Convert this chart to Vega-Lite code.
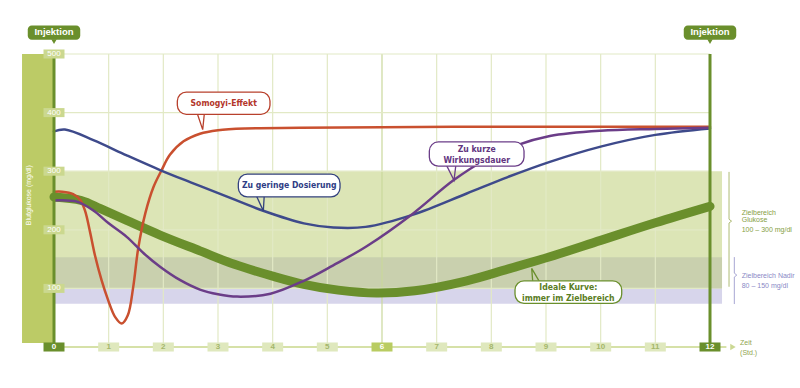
{
  "$schema": "https://vega.github.io/schema/vega-lite/v6.json",
  "width": 656,
  "height": 293,
  "autosize": {"type": "none"},
  "padding": {"left": 54, "top": 54, "right": 90, "bottom": 41},
  "background": "white",
  "config": {"view": {"stroke": null}, "text": {"font": "Liberation Sans"}},
  "datasets": {
    "bands": [
      {"b": "glukose", "t": 0, "t2": 12.22, "v": 100, "v2": 300},
      {"b": "nadir", "t": 0, "t2": 12.22, "v": 74, "v2": 100},
      {"b": "both", "t": 0, "t2": 12.22, "v": 100, "v2": 153}
    ],
    "sidebar": [{"t": -0.585, "t2": 0, "v": 6.8, "v2": 500}],
    "vgrid": [
      {"t": 1, "v": 0, "v2": 500}, {"t": 2, "v": 0, "v2": 500}, {"t": 3, "v": 0, "v2": 500},
      {"t": 4, "v": 0, "v2": 500}, {"t": 5, "v": 0, "v2": 500}, {"t": 6, "v": 0, "v2": 500},
      {"t": 7, "v": 0, "v2": 500}, {"t": 8, "v": 0, "v2": 500}, {"t": 9, "v": 0, "v2": 500},
      {"t": 10, "v": 0, "v2": 500}, {"t": 11, "v": 0, "v2": 500}
    ],
    "hgrid": [
      {"t": 0, "t2": 12, "v": 100}, {"t": 0, "t2": 12, "v": 200}, {"t": 0, "t2": 12, "v": 300},
      {"t": 0, "t2": 12, "v": 400}, {"t": 0, "t2": 12, "v": 500}
    ],
    "xaxis": [{"t": 0, "t2": 12.3, "v": 0}],
    "arrow": [{"t": 12.42, "v": 0}],
    "curves": [
      {"s": "ideal", "t": 0, "v": 256}, {"s": "ideal", "t": 0.5, "v": 250}, {"s": "ideal", "t": 0.85, "v": 236},
      {"s": "ideal", "t": 1.33, "v": 216}, {"s": "ideal", "t": 1.94, "v": 191}, {"s": "ideal", "t": 2.67, "v": 164},
      {"s": "ideal", "t": 3.3, "v": 141}, {"s": "ideal", "t": 4, "v": 121}, {"s": "ideal", "t": 4.57, "v": 107},
      {"s": "ideal", "t": 5.2, "v": 97}, {"s": "ideal", "t": 5.9, "v": 92}, {"s": "ideal", "t": 6.6, "v": 96},
      {"s": "ideal", "t": 7.55, "v": 113}, {"s": "ideal", "t": 8.3, "v": 133}, {"s": "ideal", "t": 9.07, "v": 154},
      {"s": "ideal", "t": 10, "v": 182}, {"s": "ideal", "t": 11, "v": 212}, {"s": "ideal", "t": 12, "v": 240},
      {"s": "somogyi", "t": 0, "v": 265}, {"s": "somogyi", "t": 0.15, "v": 265}, {"s": "somogyi", "t": 0.35, "v": 261},
      {"s": "somogyi", "t": 0.48, "v": 251}, {"s": "somogyi", "t": 0.57, "v": 232}, {"s": "somogyi", "t": 0.66, "v": 196},
      {"s": "somogyi", "t": 0.75, "v": 156}, {"s": "somogyi", "t": 0.87, "v": 114}, {"s": "somogyi", "t": 0.99, "v": 80},
      {"s": "somogyi", "t": 1.12, "v": 51}, {"s": "somogyi", "t": 1.24, "v": 40}, {"s": "somogyi", "t": 1.35, "v": 54},
      {"s": "somogyi", "t": 1.45, "v": 103}, {"s": "somogyi", "t": 1.54, "v": 168}, {"s": "somogyi", "t": 1.67, "v": 228},
      {"s": "somogyi", "t": 1.82, "v": 273}, {"s": "somogyi", "t": 1.97, "v": 302}, {"s": "somogyi", "t": 2.12, "v": 328},
      {"s": "somogyi", "t": 2.37, "v": 351}, {"s": "somogyi", "t": 2.67, "v": 364}, {"s": "somogyi", "t": 3, "v": 370},
      {"s": "somogyi", "t": 3.5, "v": 373}, {"s": "somogyi", "t": 4.5, "v": 374}, {"s": "somogyi", "t": 6, "v": 375},
      {"s": "somogyi", "t": 8, "v": 376}, {"s": "somogyi", "t": 10, "v": 376}, {"s": "somogyi", "t": 12, "v": 376},
      {"s": "dosis", "t": 0, "v": 368}, {"s": "dosis", "t": 0.2, "v": 371}, {"s": "dosis", "t": 0.72, "v": 353},
      {"s": "dosis", "t": 1.33, "v": 327}, {"s": "dosis", "t": 1.94, "v": 302}, {"s": "dosis", "t": 2.5, "v": 281},
      {"s": "dosis", "t": 3.05, "v": 261}, {"s": "dosis", "t": 3.84, "v": 232}, {"s": "dosis", "t": 4.57, "v": 211},
      {"s": "dosis", "t": 5.11, "v": 204}, {"s": "dosis", "t": 5.7, "v": 205}, {"s": "dosis", "t": 6.57, "v": 226},
      {"s": "dosis", "t": 7.55, "v": 262}, {"s": "dosis", "t": 8.3, "v": 290}, {"s": "dosis", "t": 9.07, "v": 316},
      {"s": "dosis", "t": 10, "v": 342}, {"s": "dosis", "t": 11, "v": 362}, {"s": "dosis", "t": 12, "v": 373},
      {"s": "wirkung", "t": 0, "v": 250}, {"s": "wirkung", "t": 0.11, "v": 250.5}, {"s": "wirkung", "t": 0.42, "v": 248},
      {"s": "wirkung", "t": 0.72, "v": 233}, {"s": "wirkung", "t": 1, "v": 211}, {"s": "wirkung", "t": 1.33, "v": 188},
      {"s": "wirkung", "t": 1.64, "v": 160}, {"s": "wirkung", "t": 1.94, "v": 137}, {"s": "wirkung", "t": 2.31, "v": 114},
      {"s": "wirkung", "t": 2.67, "v": 98}, {"s": "wirkung", "t": 3, "v": 90}, {"s": "wirkung", "t": 3.35, "v": 86},
      {"s": "wirkung", "t": 3.96, "v": 91}, {"s": "wirkung", "t": 4.57, "v": 113}, {"s": "wirkung", "t": 5.1, "v": 139},
      {"s": "wirkung", "t": 5.72, "v": 172}, {"s": "wirkung", "t": 6.57, "v": 228}, {"s": "wirkung", "t": 7.3, "v": 284},
      {"s": "wirkung", "t": 7.9, "v": 320}, {"s": "wirkung", "t": 8.46, "v": 344}, {"s": "wirkung", "t": 9.07, "v": 360},
      {"s": "wirkung", "t": 10, "v": 369}, {"s": "wirkung", "t": 11, "v": 372}, {"s": "wirkung", "t": 12, "v": 374}
    ],
    "inj": [{"t": 0, "v": 0, "v2": 500}, {"t": 12, "v": 0, "v2": 500}],
    "ylab": [{"t": 0, "v": 100}, {"t": 0, "v": 200}, {"t": 0, "v": 300}, {"t": 0, "v": 400}, {"t": 0, "v": 500}],
    "xlab": [
      {"t": 0, "v": 0}, {"t": 1, "v": 0}, {"t": 2, "v": 0}, {"t": 3, "v": 0}, {"t": 4, "v": 0},
      {"t": 5, "v": 0}, {"t": 6, "v": 0}, {"t": 7, "v": 0}, {"t": 8, "v": 0}, {"t": 9, "v": 0},
      {"t": 10, "v": 0}, {"t": 11, "v": 0}, {"t": 12, "v": 0}
    ],
    "injbox": [{"t": -0.48, "t2": 0.48, "v": 524.5, "v2": 548.8}, {"t": 11.52, "t2": 12.48, "v": 524.5, "v2": 548.8}],
    "injtri": [{"t": 0, "v": 521}, {"t": 12, "v": 521}],
    "injtext": [{"t": 0, "v": 536.9, "label": "Injektion"}, {"t": 12, "v": 536.9, "label": "Injektion"}],
    "tails": [
      {"c": "s", "o": 0, "t": 2.622, "v": 398}, {"c": "s", "o": 1, "t": 2.72, "v": 371}, {"c": "s", "o": 2, "t": 2.75, "v": 398},
      {"c": "d", "o": 0, "t": 3.708, "v": 257}, {"c": "d", "o": 1, "t": 3.829, "v": 232.3}, {"c": "d", "o": 2, "t": 3.845, "v": 257},
      {"c": "w", "o": 0, "t": 7.183, "v": 309.5}, {"c": "w", "o": 1, "t": 7.317, "v": 284.6}, {"c": "w", "o": 2, "t": 7.35, "v": 309.5},
      {"c": "i", "o": 0, "t": 8.757, "v": 112}, {"c": "i", "o": 1, "t": 8.738, "v": 134.1}, {"c": "i", "o": 2, "t": 8.877, "v": 112}
    ],
    "boxes": [
      {"c": "s", "t": 2.256, "t2": 3.951, "v": 397.1, "v2": 435.1},
      {"c": "d", "t": 3.372, "t2": 5.232, "v": 256.2, "v2": 294.9},
      {"c": "w", "t": 6.866, "t2": 8.598, "v": 308.5, "v2": 349.9},
      {"c": "i", "t": 8.433, "t2": 10.385, "v": 74.5, "v2": 113}
    ],
    "ctext": [
      {"c": "s", "t": 3.104, "v": 415.9, "label": "Somogyi-Effekt"},
      {"c": "d", "t": 4.302, "v": 275.6, "label": "Zu geringe Dosierung"},
      {"c": "w", "t": 7.732, "v": 337.5, "label": "Zu kurze"},
      {"c": "w", "t": 7.732, "v": 318.7, "label": "Wirkungsdauer"},
      {"c": "i", "t": 9.408, "v": 102.8, "label": "Ideale Kurve:"},
      {"c": "i", "t": 9.408, "v": 83, "label": "immer im Zielbereich"}
    ],
    "braces": [
      {"b": "g", "o": 0, "t": 12.348, "v": 298.8}, {"b": "g", "o": 1, "t": 12.348, "v": 218},
      {"b": "g", "o": 2, "t": 12.395, "v": 214.8}, {"b": "g", "o": 3, "t": 12.348, "v": 211.6},
      {"b": "g", "o": 4, "t": 12.348, "v": 102.8},
      {"b": "n", "o": 0, "t": 12.445, "v": 153.4}, {"b": "n", "o": 1, "t": 12.445, "v": 126},
      {"b": "n", "o": 2, "t": 12.49, "v": 122.7}, {"b": "n", "o": 3, "t": 12.445, "v": 119.4},
      {"b": "n", "o": 4, "t": 12.445, "v": 73.3}
    ],
    "rtext": [
      {"b": "g", "t": 12.58, "v": 228.9, "label": "Zielbereich"},
      {"b": "g", "t": 12.58, "v": 216.4, "label": "Glukose"},
      {"b": "g", "t": 12.58, "v": 199.4, "label": "100 – 300 mg/dl"},
      {"b": "n", "t": 12.58, "v": 121, "label": "Zielbereich Nadir"},
      {"b": "n", "t": 12.58, "v": 104, "label": "80 – 150 mg/dl"}
    ],
    "ytitle": [{"t": -0.45, "v": 259, "label": "Blutglukose (mg/dl)"}],
    "zeit": [{"t": 12.55, "v": 6.8, "label": "Zeit"}, {"t": 12.55, "v": -10.2, "label": "(Std.)"}]
  },
  "encoding": {
    "x": {"field": "t", "type": "quantitative", "scale": {"domain": [0, 12], "nice": false, "zero": false}, "axis": null},
    "y": {"field": "v", "type": "quantitative", "scale": {"domain": [0, 500], "nice": false, "zero": false}, "axis": null}
  },
  "layer": [
    {
      "data": {"name": "bands"},
      "mark": {"type": "rect"},
      "encoding": {
        "x2": {"field": "t2"}, "y2": {"field": "v2"},
        "color": {"field": "b", "type": "nominal", "scale": {"domain": ["glukose", "nadir", "both"], "range": ["#dce5b6", "#d7d5eb", "#c9d0ae"]}, "legend": null}
      }
    },
    {
      "data": {"name": "sidebar"},
      "mark": {"type": "rect", "color": "#bccb66"},
      "encoding": {"x2": {"field": "t2"}, "y2": {"field": "v2"}}
    },
    {
      "data": {"name": "vgrid"},
      "mark": {"type": "rule", "strokeWidth": 1.2},
      "encoding": {
        "y2": {"field": "v2"},
        "color": {"condition": {"test": "datum.t === 6", "value": "#cad89c"}, "value": "#e2e9c5"}
      }
    },
    {
      "data": {"name": "hgrid"},
      "mark": {"type": "rule", "strokeWidth": 1.2, "color": "#e2e9c5"},
      "encoding": {"x2": {"field": "t2"}}
    },
    {
      "data": {"name": "xaxis"},
      "mark": {"type": "rule", "strokeWidth": 2, "color": "#d6e1a8"},
      "encoding": {"x2": {"field": "t2"}}
    },
    {
      "data": {"name": "arrow"},
      "mark": {"type": "point", "shape": "triangle-right", "filled": true, "size": 40, "color": "#cbd893", "opacity": 1}
    },
    {
      "data": {"name": "curves"},
      "transform": [{"filter": "datum.s === 'ideal'"}],
      "mark": {"type": "line", "interpolate": "catmull-rom", "strokeWidth": 9, "strokeCap": "round", "color": "#6a8f2c"},
      "encoding": {"order": {"field": "t", "type": "quantitative"}}
    },
    {
      "data": {"name": "curves"},
      "transform": [{"filter": "datum.s !== 'ideal'"}],
      "mark": {"type": "line", "interpolate": "catmull-rom", "strokeWidth": 2.5, "strokeCap": "round"},
      "encoding": {
        "order": {"field": "t", "type": "quantitative"},
        "color": {"field": "s", "type": "nominal", "scale": {"domain": ["somogyi", "dosis", "wirkung"], "range": ["#c9502f", "#3e4a8b", "#6b3d88"]}, "legend": null}
      }
    },
    {
      "data": {"name": "inj"},
      "mark": {"type": "rule", "strokeWidth": 3, "color": "#6a8f2c"},
      "encoding": {"y2": {"field": "v2"}}
    },
    {
      "data": {"name": "ylab"},
      "mark": {"type": "point", "shape": "M-1,-0.43L1,-0.43L1,0.43L-1,0.43Z", "filled": true, "size": 441, "color": "#cbd88f", "opacity": 1}
    },
    {
      "data": {"name": "ylab"},
      "mark": {"type": "text", "fontSize": 8, "color": "white", "align": "center", "baseline": "middle"},
      "encoding": {"text": {"field": "v", "type": "quantitative", "format": "d"}}
    },
    {
      "data": {"name": "xlab"},
      "mark": {"type": "point", "shape": "M-1,-0.43L1,-0.43L1,0.43L-1,0.43Z", "filled": true, "size": 441, "opacity": 1},
      "encoding": {
        "color": {"condition": [{"test": "datum.t === 0 || datum.t === 12", "value": "#6a8f2c"}, {"test": "datum.t === 6", "value": "#b9cc62"}], "value": "#dfe8bd"}
      }
    },
    {
      "data": {"name": "xlab"},
      "mark": {"type": "text", "fontSize": 8, "fontWeight": "bold", "align": "center", "baseline": "middle"},
      "encoding": {
        "text": {"field": "t", "type": "quantitative", "format": "d"},
        "color": {"condition": {"test": "datum.t === 0 || datum.t === 12 || datum.t === 6", "value": "white"}, "value": "#a4b66a"}
      }
    },
    {
      "data": {"name": "injbox"},
      "mark": {"type": "rect", "color": "#6a8f2c", "cornerRadius": 4},
      "encoding": {"x2": {"field": "t2"}, "y2": {"field": "v2"}}
    },
    {
      "data": {"name": "injtri"},
      "mark": {"type": "point", "shape": "triangle-down", "filled": true, "size": 30, "color": "#6a8f2c", "opacity": 1}
    },
    {
      "data": {"name": "injtext"},
      "mark": {"type": "text", "fontSize": 9.5, "fontWeight": "bold", "color": "white", "align": "center", "baseline": "middle"},
      "encoding": {"text": {"field": "label"}}
    },
    {
      "data": {"name": "tails"},
      "mark": {"type": "line", "strokeWidth": 1.3, "interpolate": "linear"},
      "encoding": {
        "order": {"field": "o", "type": "quantitative"},
        "detail": {"field": "c"},
        "color": {"field": "c", "type": "nominal", "scale": {"domain": ["s", "d", "w", "i"], "range": ["#b8402c", "#34427f", "#6b3d88", "#6a8f2c"]}, "legend": null}
      }
    },
    {
      "data": {"name": "boxes"},
      "mark": {"type": "rect", "fill": "white", "strokeWidth": 1.3, "cornerRadius": 9},
      "encoding": {
        "x2": {"field": "t2"}, "y2": {"field": "v2"},
        "stroke": {"field": "c", "type": "nominal", "scale": {"domain": ["s", "d", "w", "i"], "range": ["#b8402c", "#34427f", "#6b3d88", "#6a8f2c"]}, "legend": null}
      }
    },
    {
      "data": {"name": "ctext"},
      "mark": {"type": "text", "font": "DejaVu Sans Condensed", "fontSize": 8.6, "fontWeight": "bold", "align": "center", "baseline": "middle"},
      "encoding": {
        "text": {"field": "label"},
        "color": {"field": "c", "type": "nominal", "scale": {"domain": ["s", "d", "w", "i"], "range": ["#b3362a", "#2f3d85", "#62357f", "#5a7d24"]}, "legend": null}
      }
    },
    {
      "data": {"name": "braces"},
      "mark": {"type": "line", "strokeWidth": 1, "interpolate": "linear"},
      "encoding": {
        "order": {"field": "o", "type": "quantitative"},
        "detail": {"field": "b"},
        "color": {"field": "b", "type": "nominal", "scale": {"domain": ["g", "n"], "range": ["#aebb74", "#a7a6d3"]}, "legend": null}
      }
    },
    {
      "data": {"name": "rtext"},
      "mark": {"type": "text", "fontSize": 7, "align": "left", "baseline": "middle"},
      "encoding": {
        "text": {"field": "label"},
        "color": {"field": "b", "type": "nominal", "scale": {"domain": ["g", "n"], "range": ["#86a044", "#8a89c6"]}, "legend": null}
      }
    },
    {
      "data": {"name": "ytitle"},
      "mark": {"type": "text", "fontSize": 7, "angle": 270, "color": "white", "align": "center", "baseline": "middle"},
      "encoding": {"text": {"field": "label"}}
    },
    {
      "data": {"name": "zeit"},
      "mark": {"type": "text", "fontSize": 7, "color": "#8fa650", "align": "left", "baseline": "middle"},
      "encoding": {"text": {"field": "label"}}
    }
  ],
  "resolve": {"scale": {"color": "independent", "stroke": "independent", "fill": "independent"}}
}
